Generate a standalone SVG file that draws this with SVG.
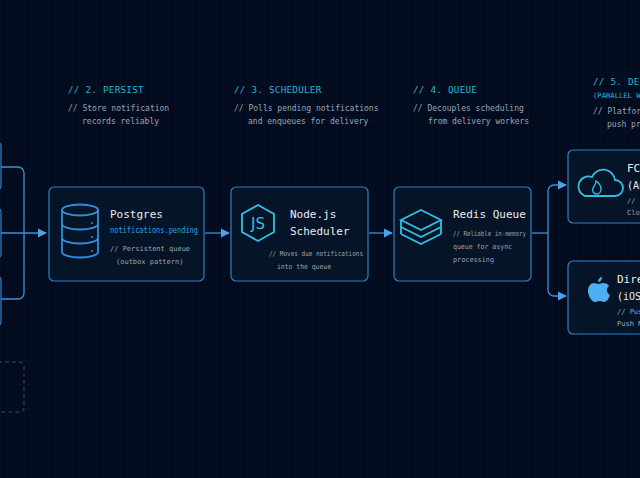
<svg xmlns="http://www.w3.org/2000/svg" width="640" height="478" viewBox="0 0 640 478">
<defs>
<pattern id="grid" width="24" height="24" patternUnits="userSpaceOnUse"><path d="M24 0H0V24" fill="none" stroke="#0b1a30" stroke-width="0.6"/></pattern>
<marker id="ah" viewBox="0 0 10 10" refX="9" refY="5" markerWidth="7" markerHeight="7" orient="auto"><path d="M0 0L10 5L0 10z" fill="#4aa3e8"/></marker>
<style>
.box{fill:#061427;stroke:#2f7fc4;stroke-width:1.2}
.hd{font-family:"DejaVu Sans Mono",monospace;font-size:9.2px;fill:#22b5d6;letter-spacing:0.3px}
.ds{font-family:"DejaVu Sans Mono",monospace;font-size:8px;fill:#9aa6b6}
.tt{font-family:"DejaVu Sans Mono",monospace;font-size:11px;fill:#e8edf3}
.sm{font-family:"DejaVu Sans Mono",monospace;font-size:7px;fill:#9aa6b6}
.bl{font-family:"DejaVu Sans Mono",monospace;font-size:8px;fill:#29a3e0}
.ic{fill:none;stroke:#2ec0e6;stroke-width:1.8}
.cn{fill:none;stroke:#3d8fd4;stroke-width:1.3}
</style>
</defs>
<rect width="640" height="478" fill="#020c1e"/>
<rect width="640" height="478" fill="url(#grid)"/>

<g id="headers">
<text class="hd" x="68" y="93">// 2. PERSIST</text>
<text class="ds" x="68" y="111">// Store notification</text>
<text class="ds" x="82" y="124">records reliably</text>
<text class="hd" x="234" y="93">// 3. SCHEDULER</text>
<text class="ds" x="234" y="111">// Polls pending notifications</text>
<text class="ds" x="248" y="124">and enqueues for delivery</text>
<text class="hd" x="413" y="93">// 4. QUEUE</text>
<text class="ds" x="413" y="111">// Decouples scheduling</text>
<text class="ds" x="428" y="124">from delivery workers</text>
<text class="hd" x="593" y="85">// 5. DELIVER</text>
<text class="sm" x="593" y="98" style="fill:#22b5d6;font-size:7.2px">(PARALLEL WORKERS)</text>
<text class="ds" x="593" y="114">// Platform-specific</text>
<text class="ds" x="607" y="127">push providers</text>
</g>

<g id="sources">
<rect class="box" x="-20" y="142" width="21" height="48" rx="4"/>
<rect class="box" x="-20" y="208" width="21" height="50" rx="4"/>
<rect class="box" x="-20" y="276" width="21" height="50" rx="4"/>
<rect x="-20" y="362" width="44" height="50" rx="4" fill="none" stroke="#3a4a60" stroke-dasharray="4 3"/>
</g>

<g id="postgres">
<rect class="box" x="49" y="187" width="155" height="94" rx="5"/>
<g class="ic" style="stroke:#2f8fe0">
<ellipse cx="80" cy="210" rx="18" ry="5.5"/>
<path d="M62 210V252a18 5.5 0 0 0 36 0V210"/>
<path d="M62 224a18 5.5 0 0 0 36 0M62 238a18 5.5 0 0 0 36 0"/>
</g>
<circle cx="92" cy="223" r="1" fill="#2f8fe0"/><circle cx="92" cy="237" r="1" fill="#2f8fe0"/><circle cx="92" cy="251" r="1" fill="#2f8fe0"/>
<text class="tt" x="110" y="218">Postgres</text>
<text class="bl" x="110" y="233" textLength="88" lengthAdjust="spacingAndGlyphs">notifications.pending</text>
<text class="sm" x="110" y="251">// Persistent queue</text>
<text class="sm" x="116" y="264">(outbox pattern)</text>
</g>

<g id="scheduler">
<rect class="box" x="231" y="187" width="137" height="94" rx="5"/>
<path class="ic" d="M258 205L274 214V232L258 241L242 232V214Z"/>
<text x="258" y="229" text-anchor="middle" style="font-family:'DejaVu Sans',sans-serif;font-size:15px;fill:#2ec0e6">JS</text>
<text class="tt" x="290" y="218">Node.js</text>
<text class="tt" x="290" y="235">Scheduler</text>
<text class="sm" x="269" y="256" textLength="94" lengthAdjust="spacingAndGlyphs">// Moves due notifications</text>
<text class="sm" x="277" y="269" textLength="54" lengthAdjust="spacingAndGlyphs">into the queue</text>
</g>

<g id="redis">
<rect class="box" x="394" y="187" width="137" height="94" rx="5"/>
<g class="ic">
<path d="M421 210L441 220L421 230L401 220Z"/>
<path d="M401 227L421 237L441 227"/>
<path d="M401 234L421 244L441 234"/>
<path d="M401 220V234M441 220V234"/>
</g>
<text class="tt" x="453" y="218">Redis Queue</text>
<text class="sm" x="453" y="236" textLength="73" lengthAdjust="spacingAndGlyphs">// Reliable in-memory</text>
<text class="sm" x="453" y="249" textLength="59" lengthAdjust="spacingAndGlyphs">queue for async</text>
<text class="sm" x="453" y="262" textLength="41" lengthAdjust="spacingAndGlyphs">processing</text>
</g>

<g id="fcm">
<rect class="box" x="568" y="150" width="90" height="73" rx="5"/>
<path class="ic" d="M585 196h30a8 8 0 0 0 0-16a12 12 0 0 0-23-3a9 9 0 0 0-7 19z"/>
<path class="ic" style="stroke-width:1.4" d="M597 194c-4 0-5-3-4-6c1-2 3-3 3-7c3 2 5 5 5 8c0 3-2 5-4 5z"/>
<text class="tt" x="627" y="172">FCM</text>
<text class="tt" x="627" y="189" style="font-size:10px">(Android)</text>
<text class="sm" x="627" y="203">// Push via Firebase</text>
<text class="sm" x="627" y="215">Cloud Messaging</text>
</g>

<g id="apns">
<rect class="box" x="568" y="261" width="90" height="73" rx="5"/>
<path fill="#4ab0f0" d="M598 284c2 0 4-1 5-1c3 0 5 1 6 3c-3 2-3 7 1 9c-1 3-3 7-6 7c-2 0-2-1-4-1s-3 1-5 1c-3 0-7-6-7-11c0-5 3-8 6-8c1 0 3 1 4 1z M598 282c0-3 2-5 4-5c0 3-2 5-4 5z"/>
<text class="tt" x="617" y="283">Direct APNs</text>
<text class="tt" x="617" y="300" style="font-size:10px">(iOS)</text>
<text class="sm" x="617" y="314">// Push via Apple</text>
<text class="sm" x="617" y="326">Push Notification Service</text>
</g>

<g id="connectors">
<path class="cn" d="M1 167H18a6 6 0 0 1 6 6V293a6 6 0 0 1-6 6H1"/>
<path class="cn" d="M1 233H46" marker-end="url(#ah)"/>
<path class="cn" d="M205 233H229" marker-end="url(#ah)"/>
<path class="cn" d="M369 233H392" marker-end="url(#ah)"/>
<path class="cn" d="M532 233H548"/>
<path class="cn" d="M548 233V191a6 6 0 0 1 6-6H566" marker-end="url(#ah)"/>
<path class="cn" d="M548 233V290a6 6 0 0 0 6 6H566" marker-end="url(#ah)"/>
</g>
</svg>
